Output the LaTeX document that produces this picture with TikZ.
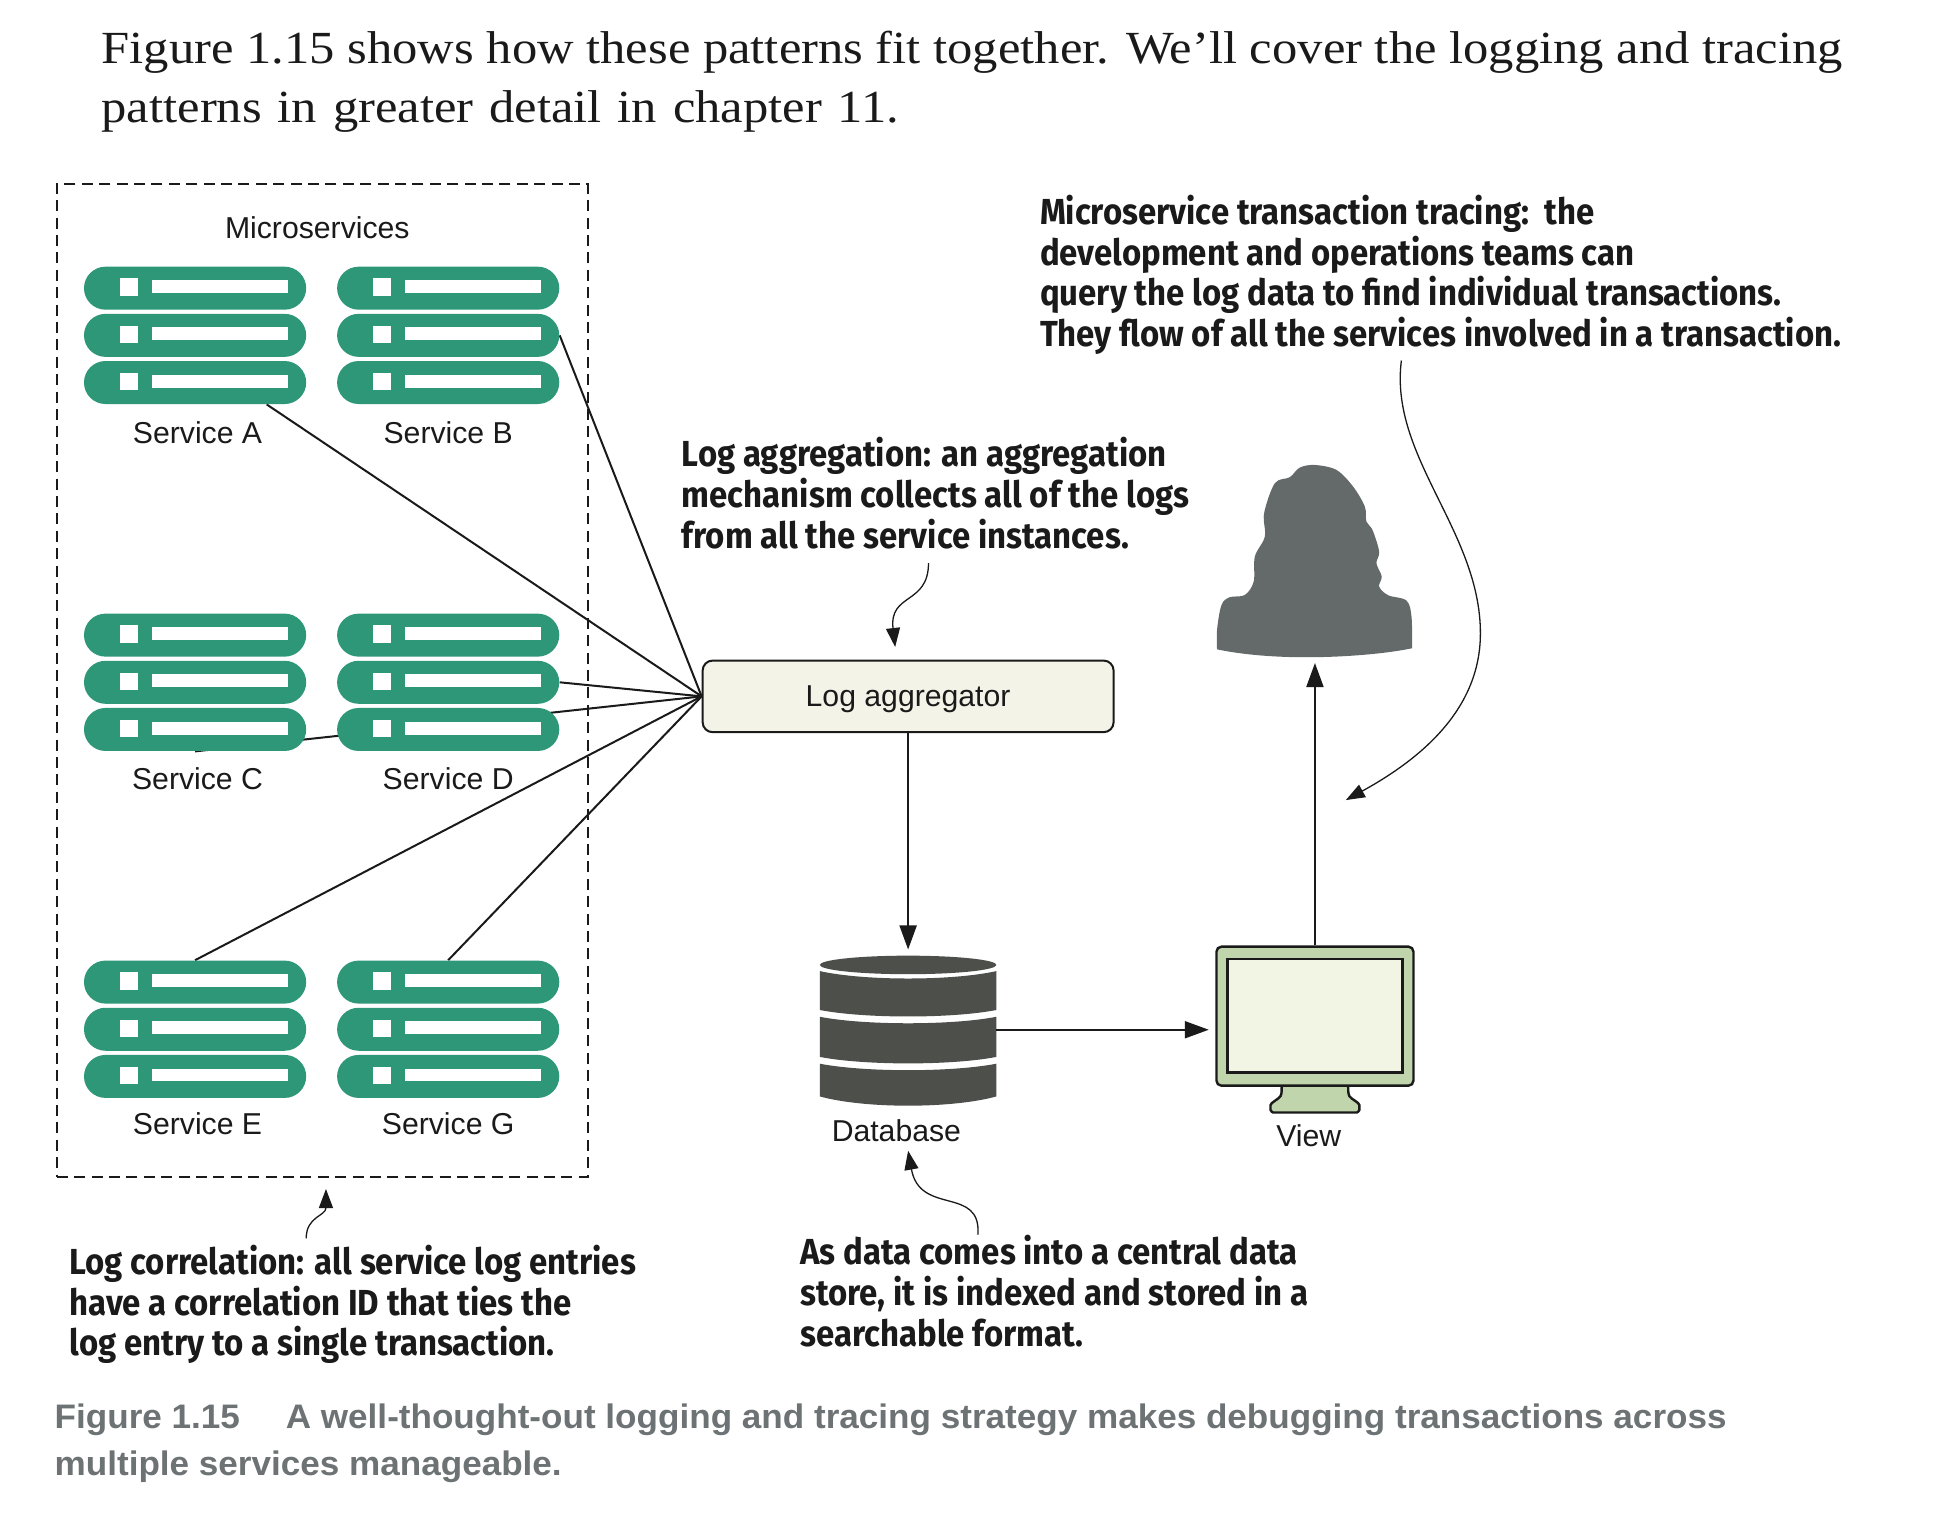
\documentclass[tikz,border=0pt]{standalone}
\usepackage{fontspec}
\setmainfont[FakeStretch=1.10]{Liberation Serif}
\newfontfamily\labfont{Liberation Sans}
\newfontfamily\annfont[FakeStretch=0.91]{Fira Sans}
\newfontfamily\capfont[FakeStretch=1.032]{Liberation Sans}
\usetikzlibrary{shapes.misc,arrows.meta,calc}
\definecolor{pillc}{HTML}{2E9778}
\definecolor{dbc}{HTML}{4D4F4B}
\definecolor{personc}{HTML}{646A6A}
\definecolor{aggc}{HTML}{F3F3E8}
\definecolor{frame}{HTML}{C0D5AC}
\definecolor{screenc}{HTML}{F2F5E4}
\definecolor{capc}{HTML}{6D7274}
\definecolor{inkc}{HTML}{1A1A1A}
\pgfdeclarelayer{under}
\pgfsetlayers{under,main}
\tikzset{
  pill/.style={rounded rectangle,fill=pillc,draw=none,inner sep=0pt,minimum width=111.1pt,minimum height=21.5pt},
  wire/.style={draw=inkc,line width=1pt},
  arrowline/.style={draw=inkc,line width=1pt,-{Stealth[length=12pt,width=8.5pt,inset=0pt]}},
  thin curve/.style={draw=inkc,line width=0.65pt,-{Stealth[length=9.5pt,width=7pt,inset=0pt]}},
  lab/.style={font=\labfont\fontsize{15.1}{17}\selectfont,text=inkc,inner sep=0pt},
  note/.style={font=\annfont\bfseries\fontsize{18.1}{20.4}\selectfont,text=inkc,align=left,anchor=north west,inner sep=0pt},
  body/.style={font=\fontsize{23}{29.6}\selectfont,text=inkc,align=left,anchor=north west,inner sep=0pt},
  caption/.style={font=\capfont\bfseries\fontsize{17}{23.5}\selectfont,text=capc,align=left,anchor=north west,inner sep=0pt},
}
\newcommand{\svc}[6]{%
  \foreach \i/\dy in {1/0,2/38.2,3/76.4}{
    \node[pill] (#1\i) at (#2+90,#3+\dy+17.4) {};
    \fill[white] (#2+29,#3+\dy+9.5) rectangle (#2+44,#3+\dy+23.5);
    \fill[white] (#2+55,#3+\dy+11) rectangle (#2+165,#3+\dy+21.5);
  }
  \node[lab] (#1label) at (#5,#6) {#4};
}
\begin{document}
\begin{tikzpicture}[x=0.61735pt,y=-0.61735pt]
\useasboundingbox (0,0) rectangle (1568,1239);
\begin{pgfonlayer}{under}
\fill[white] (0,0) rectangle (1568,1239);
\end{pgfonlayer}

\node[body] (intro) at (82,25) {Figure 1.15 shows how these patterns fit together. We’ll cover the logging and tracing\\\makebox[398.8pt][s]{patterns in greater detail in chapter 11.}};

\svc{a}{68}{216}{Service A}{160}{350.3}
\svc{b}{273}{216}{Service B}{363}{350.3}
\svc{c}{68}{497}{Service C}{160}{630.3}
\svc{d}{273}{497}{Service D}{363}{630.3}
\svc{e}{68}{778}{Service E}{160}{910.3}
\svc{g}{273}{778}{Service G}{363}{910.3}

\node[lab] (micro) at (257,184.5) {Microservices};

\node[draw=inkc,line width=1pt,fill=aggc,rounded corners=5pt,minimum width=205.5pt,minimum height=35.8pt,inner sep=0pt,lab] (agg) at (735.5,564) {\raisebox{-1.2pt}[0.72em][0.22em]{Log aggregator}};

% database
\node[inner sep=0pt,minimum width=88.3pt,minimum height=74.7pt] (db) at (735.5,834.5) {};
\fill[dbc] (735.5,781.5) ellipse [x radius=71.5,y radius=7.5];
\fill[dbc] (664,786.5) .. controls (700,794.5) and (771,794.5) .. (807,786.5) -- (807,818) .. controls (771,825) and (700,825) .. (664,818) -- cycle;
\fill[dbc] (664,823.5) .. controls (700,830.5) and (771,830.5) .. (807,823.5) -- (807,856) .. controls (771,863) and (700,863) .. (664,856) -- cycle;
\fill[dbc] (664,861.5) .. controls (700,868.5) and (771,868.5) .. (807,861.5) -- (807,888) .. controls (771,898) and (700,898) .. (664,888) -- cycle;
\node[lab] (dblabel) at (726,915.5) {Database};

% monitor
\draw[fill=frame,line width=1.2pt,draw=inkc,rounded corners=1.2pt] (1038,879) -- (1038,886) .. controls (1036,890) and (1029,893) .. (1029,897) .. controls (1029,900) and (1031,901) .. (1033,901) -- (1097,901) .. controls (1099,901) and (1101,900) .. (1101,897) .. controls (1101,893) and (1094,890) .. (1092,886) -- (1092,879) -- cycle;
\node[draw=inkc,fill=frame,line width=1.2pt,rounded corners=2.5pt,minimum width=98.5pt,minimum height=69.5pt,inner sep=0pt] (view) at (1065,823) {};
\node[draw=inkc,fill=screenc,line width=1.2pt,minimum width=87.6pt,minimum height=56.8pt,inner sep=0pt] (screen) at (1065,822.5) {};
\node[lab] (viewlabel) at (1060,919.5) {View};

% person
\fill[personc] plot[smooth,tension=0.55] coordinates {(985.7,525.9) (985.7,510.2) (989.3,490) (996,483.7) (1008.2,481.9) (1015.4,471) (1016.3,450.8) (1024.4,434.6) (1023.8,415.7) (1032.5,391.4) (1044.6,386.5) (1052.7,378.7) (1064.9,376.6) (1082.4,380.6) (1095.9,394.1) (1105.4,410.3) (1106.7,422.5) (1111.6,429.2) (1117,446.8) (1114.8,456.2) (1119.1,467) (1117,475.1) (1124.3,482.1) (1139.1,486.4) (1143.2,499.4) (1143.7,525)} .. controls (1120,530) and (1085,532.3) .. (1058.1,532.3) .. controls (1030,532.3) and (1005,530) .. (985.7,525.9) -- cycle;
\coordinate (person) at (1065,537);

% notes
\node[note] (ntrace) at (842,157.5) {Microservice transaction tracing:\ \ the\\development and operations teams can\\query the log data to find individual transactions.\\They flow of all the services involved in a transaction.};
\node[note] (nagg) at (552,354) {Log aggregation: an aggregation\\mechanism collects all of the logs\\from all the service instances.};
\node[note] (ncorr) at (56,1008) {Log correlation: all service log entries\\have a correlation ID that ties the\\log entry to a single transaction.};
\node[note] (ndb) at (648,1000) {As data comes into a central data\\store, it is indexed and stored in a\\searchable format.};
\node[caption] (cap) at (44,1137) {Figure 1.15\hspace{1.35em}A well-thought-out logging and tracing strategy makes debugging transactions across\\multiple services manageable.};

% note connector ends
\coordinate (nt0) at (1135,292);
\coordinate (nt1) at (1199,513);
\coordinate (nt2) at (1090,648);
\coordinate (nl0) at (752,456);
\coordinate (nl2) at (725,524);
\coordinate (nc0) at (248,1003);
\coordinate (nc2) at (264,963);
\coordinate (nd0) at (792,1000);
\coordinate (nd2) at (735.5,932);

\begin{pgfonlayer}{under}
  \node[draw=inkc,line width=0.9pt,dash pattern=on 5.5pt off 3.2pt,fill=white,minimum width=265.4pt,minimum height=496.4pt,inner sep=0pt] (msbox) at (261,551) {};
  \draw[wire] ($(a3.south)+(58,0)$) -- (agg.west);
  \draw[wire] (b2.east) -- (agg.west);
  \draw[wire] (d2.east) -- (agg.west);
  \draw[wire] (c3.south) -- (agg.west);
  \draw[wire] (e1.north) -- (agg.west);
  \draw[wire] (g1.north) -- (agg.west);
\end{pgfonlayer}

\draw[arrowline] (agg.south) -- (735.5,769);
\draw[arrowline] (807,834) -- (979,834);
\draw[arrowline] (view.north) -- (person);

\draw[thin curve] (nt0) .. controls (1125,370) and (1199,430) .. (nt1) .. controls (1199,575) and (1150,615) .. (nt2);
\draw[thin curve] (nl0) .. controls (752,490) and (720,480) .. (nl2);
\draw[thin curve] (nc0) .. controls (248,985) and (264,985) .. (nc2);
\draw[thin curve] (nd0) .. controls (795,960) and (745,985) .. (nd2);
\end{tikzpicture}
\end{document}
